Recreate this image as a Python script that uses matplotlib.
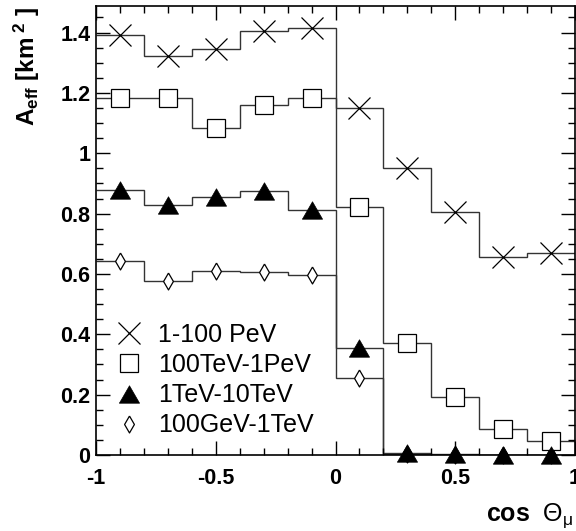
import numpy as np
import matplotlib
matplotlib.use("Agg")
import matplotlib.pyplot as plt
from matplotlib.ticker import MultipleLocator

plt.rcParams['font.family'] = ['Liberation Sans', 'DejaVu Sans']
plt.rcParams['mathtext.fontset'] = 'custom'
plt.rcParams['mathtext.rm'] = 'Liberation Sans'
plt.rcParams['mathtext.bf'] = 'Liberation Sans:bold'
plt.rcParams['mathtext.it'] = 'Liberation Sans:italic'

# bin edges in cos(theta_mu)
edges = [-1.0, -0.8, -0.6, -0.4, -0.2, 0.0, 0.2, 0.4, 0.6, 0.8, 1.0]
labels = ["1-100 PeV", "100TeV-1PeV", "1TeV-10TeV", "100GeV-1TeV"]
pev = [1.393, 1.321, 1.345, 1.404, 1.416, 1.151, 0.950, 0.806, 0.655, 0.670]
tev100 = [1.184, 1.182, 1.084, 1.161, 1.182, 0.822, 0.370, 0.191, 0.085, 0.047]
tev1 = [0.877, 0.829, 0.855, 0.875, 0.811, 0.353, 0.006, 0.003, 0.001, 0.001]
gev100 = [0.643, 0.578, 0.610, 0.606, 0.595, 0.255, 0.002, 0.001, 0.0, 0.0]
xticks = [-1, -0.5, 0, 0.5, 1]
yticks = [0, 0.2, 0.4, 0.6, 0.8, 1.0, 1.2, 1.4]

edges_a = np.array(edges)
centers = 0.5 * (edges_a[:-1] + edges_a[1:])

fig = plt.figure(figsize=(5.76, 5.31), dpi=100)
ax = fig.add_axes([96/576, 1-455/531, (575-96)/576, (455-6)/531])

line_col = '#333333'
tri = [(-1, -0.866), (1, -0.866), (0, 0.866), (-1, -0.866)]
dia = [(0, 1), (0.58, 0), (0, -1), (-0.58, 0), (0, 1)]

series = [
    (pev, dict(marker='x', ms=16.5, mfc='none', mec='black', mew=0.9), 4),
    (tev100, dict(marker='s', ms=13.5, mfc='white', mec='black', mew=0.9), 3),
    (tev1, dict(marker=tri, ms=14.5, mfc='black', mec='black', mew=0.5), 5),
    (gev100, dict(marker=dia, ms=12.2, mfc='white', mec='black', mew=0.9), 2),
]
handles = []
for (vals, mk, z), lab in zip(series, labels):
    ax.stairs(vals, edges, baseline=None, color=line_col, lw=1.0, zorder=1)
    h, = ax.plot(centers, vals, ls='none', clip_on=False, zorder=z, label=lab, **mk)
    handles.append(h)

ax.set_xlim(-1, 1)
ax.set_ylim(0, 1.488)
ax.xaxis.set_minor_locator(MultipleLocator(0.1))
ax.yaxis.set_minor_locator(MultipleLocator(0.05))
ax.tick_params(which='both', direction='in', top=True, right=True, width=1.0)
ax.tick_params(which='major', length=10)
ax.tick_params(which='minor', length=5)
ax.tick_params(axis='x', which='major', pad=9)
ax.tick_params(axis='y', which='major', pad=4)
ax.set_xticks(xticks)
ax.set_xticklabels([f"{v:g}" for v in xticks], fontsize=15.5, fontweight='bold')
ax.set_yticks(yticks)
ax.set_yticklabels([f"{v:g}" for v in yticks], fontsize=15.5, fontweight='bold')
for sp in ax.spines.values():
    sp.set_linewidth(1.2)

leg = ax.legend(handles=handles, loc='lower left', bbox_to_anchor=(0.0, 0.0),
                frameon=False, fontsize=18, handlelength=1.2, handletextpad=0.6,
                labelspacing=0.25, borderaxespad=0.3)

fig.text(27/576, 1-6/531, r'$\mathbf{A_{eff}\ [km^{\ 2}\ ]}$', rotation=90,
         ha='center', va='top', fontsize=17.5)
fig.text(573/576, 1-516/531, r'$\mathbf{cos}\ \ \Theta_{\mathrm{\mu}}$', ha='right', va='center',
         fontsize=18)

fig.savefig('out.png', dpi=100)
